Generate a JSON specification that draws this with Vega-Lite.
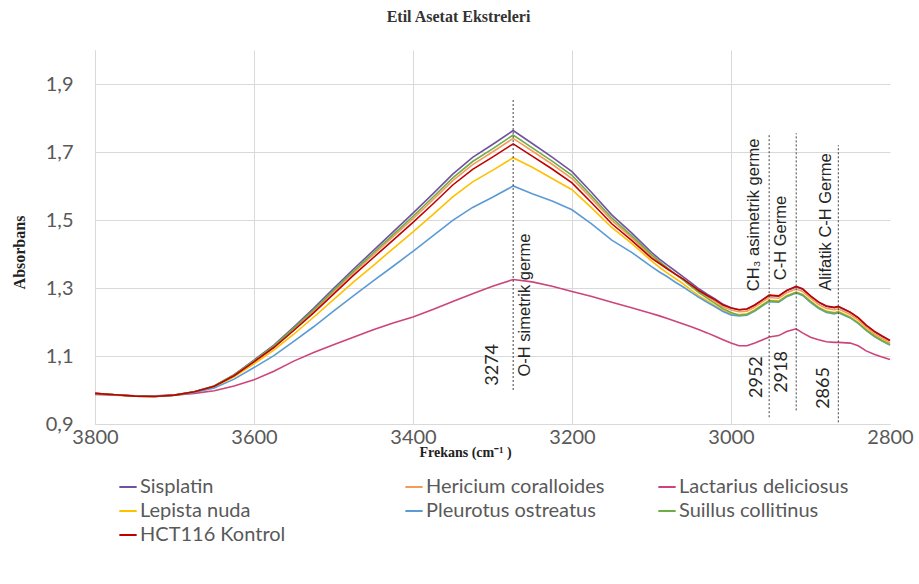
{
"$schema": "https://vega.github.io/schema/vega-lite/v6.json",
"width": 795,
"height": 374,
"autosize": "none",
"padding": {"left": 95, "top": 50, "right": 29, "bottom": 160},
"background": "white",
"title": {"text": "Etil Asetat Ekstreleri", "font": "Liberation Serif", "fontSize": 16, "fontWeight": "bold", "color": "#333333", "anchor": "middle", "dx": -34, "offset": 25},
"datasets": {
"spectra": [
{"s":"Sisplatin","x":3800,"y":0.990},{"s":"Sisplatin","x":3775,"y":0.986},{"s":"Sisplatin","x":3750,"y":0.982},{"s":"Sisplatin","x":3725,"y":0.981},{"s":"Sisplatin","x":3700,"y":0.985},{"s":"Sisplatin","x":3675,"y":0.995},{"s":"Sisplatin","x":3650,"y":1.012},{"s":"Sisplatin","x":3625,"y":1.045},{"s":"Sisplatin","x":3600,"y":1.088},{"s":"Sisplatin","x":3575,"y":1.132},{"s":"Sisplatin","x":3550,"y":1.185},{"s":"Sisplatin","x":3525,"y":1.240},{"s":"Sisplatin","x":3500,"y":1.298},{"s":"Sisplatin","x":3475,"y":1.355},{"s":"Sisplatin","x":3450,"y":1.410},{"s":"Sisplatin","x":3425,"y":1.465},{"s":"Sisplatin","x":3400,"y":1.520},{"s":"Sisplatin","x":3375,"y":1.577},{"s":"Sisplatin","x":3350,"y":1.635},{"s":"Sisplatin","x":3325,"y":1.684},{"s":"Sisplatin","x":3300,"y":1.722},{"s":"Sisplatin","x":3274,"y":1.763},{"s":"Sisplatin","x":3250,"y":1.725},{"s":"Sisplatin","x":3225,"y":1.685},{"s":"Sisplatin","x":3200,"y":1.642},{"s":"Sisplatin","x":3175,"y":1.580},{"s":"Sisplatin","x":3150,"y":1.515},{"s":"Sisplatin","x":3125,"y":1.462},{"s":"Sisplatin","x":3100,"y":1.405},{"s":"Sisplatin","x":3090,"y":1.385},{"s":"Sisplatin","x":3080,"y":1.367},{"s":"Sisplatin","x":3070,"y":1.350},{"s":"Sisplatin","x":3060,"y":1.333},{"s":"Sisplatin","x":3050,"y":1.315},{"s":"Sisplatin","x":3040,"y":1.297},{"s":"Sisplatin","x":3030,"y":1.282},{"s":"Sisplatin","x":3020,"y":1.268},{"s":"Sisplatin","x":3010,"y":1.252},{"s":"Sisplatin","x":3000,"y":1.242},{"s":"Sisplatin","x":2990,"y":1.236},{"s":"Sisplatin","x":2980,"y":1.238},{"s":"Sisplatin","x":2970,"y":1.250},{"s":"Sisplatin","x":2960,"y":1.266},{"s":"Sisplatin","x":2952,"y":1.278},{"s":"Sisplatin","x":2940,"y":1.276},{"s":"Sisplatin","x":2930,"y":1.292},{"s":"Sisplatin","x":2918,"y":1.303},{"s":"Sisplatin","x":2910,"y":1.296},{"s":"Sisplatin","x":2900,"y":1.276},{"s":"Sisplatin","x":2890,"y":1.258},{"s":"Sisplatin","x":2880,"y":1.246},{"s":"Sisplatin","x":2870,"y":1.242},{"s":"Sisplatin","x":2865,"y":1.245},{"s":"Sisplatin","x":2850,"y":1.228},{"s":"Sisplatin","x":2840,"y":1.212},{"s":"Sisplatin","x":2830,"y":1.190},{"s":"Sisplatin","x":2820,"y":1.172},{"s":"Sisplatin","x":2810,"y":1.158},{"s":"Sisplatin","x":2800,"y":1.145},
{"s":"Hericium coralloides","x":3800,"y":0.990},{"s":"Hericium coralloides","x":3775,"y":0.986},{"s":"Hericium coralloides","x":3750,"y":0.982},{"s":"Hericium coralloides","x":3725,"y":0.981},{"s":"Hericium coralloides","x":3700,"y":0.985},{"s":"Hericium coralloides","x":3675,"y":0.995},{"s":"Hericium coralloides","x":3650,"y":1.011},{"s":"Hericium coralloides","x":3625,"y":1.043},{"s":"Hericium coralloides","x":3600,"y":1.085},{"s":"Hericium coralloides","x":3575,"y":1.128},{"s":"Hericium coralloides","x":3550,"y":1.179},{"s":"Hericium coralloides","x":3525,"y":1.232},{"s":"Hericium coralloides","x":3500,"y":1.289},{"s":"Hericium coralloides","x":3475,"y":1.344},{"s":"Hericium coralloides","x":3450,"y":1.397},{"s":"Hericium coralloides","x":3425,"y":1.451},{"s":"Hericium coralloides","x":3400,"y":1.504},{"s":"Hericium coralloides","x":3375,"y":1.559},{"s":"Hericium coralloides","x":3350,"y":1.616},{"s":"Hericium coralloides","x":3325,"y":1.663},{"s":"Hericium coralloides","x":3300,"y":1.700},{"s":"Hericium coralloides","x":3274,"y":1.740},{"s":"Hericium coralloides","x":3250,"y":1.703},{"s":"Hericium coralloides","x":3225,"y":1.664},{"s":"Hericium coralloides","x":3200,"y":1.622},{"s":"Hericium coralloides","x":3175,"y":1.562},{"s":"Hericium coralloides","x":3150,"y":1.499},{"s":"Hericium coralloides","x":3125,"y":1.448},{"s":"Hericium coralloides","x":3100,"y":1.393},{"s":"Hericium coralloides","x":3090,"y":1.375},{"s":"Hericium coralloides","x":3080,"y":1.358},{"s":"Hericium coralloides","x":3070,"y":1.341},{"s":"Hericium coralloides","x":3060,"y":1.325},{"s":"Hericium coralloides","x":3050,"y":1.307},{"s":"Hericium coralloides","x":3040,"y":1.290},{"s":"Hericium coralloides","x":3030,"y":1.275},{"s":"Hericium coralloides","x":3020,"y":1.261},{"s":"Hericium coralloides","x":3010,"y":1.245},{"s":"Hericium coralloides","x":3000,"y":1.235},{"s":"Hericium coralloides","x":2990,"y":1.230},{"s":"Hericium coralloides","x":2980,"y":1.232},{"s":"Hericium coralloides","x":2970,"y":1.244},{"s":"Hericium coralloides","x":2960,"y":1.260},{"s":"Hericium coralloides","x":2952,"y":1.272},{"s":"Hericium coralloides","x":2940,"y":1.270},{"s":"Hericium coralloides","x":2930,"y":1.286},{"s":"Hericium coralloides","x":2918,"y":1.297},{"s":"Hericium coralloides","x":2910,"y":1.290},{"s":"Hericium coralloides","x":2900,"y":1.270},{"s":"Hericium coralloides","x":2890,"y":1.252},{"s":"Hericium coralloides","x":2880,"y":1.240},{"s":"Hericium coralloides","x":2870,"y":1.236},{"s":"Hericium coralloides","x":2865,"y":1.239},{"s":"Hericium coralloides","x":2850,"y":1.222},{"s":"Hericium coralloides","x":2840,"y":1.206},{"s":"Hericium coralloides","x":2830,"y":1.184},{"s":"Hericium coralloides","x":2820,"y":1.166},{"s":"Hericium coralloides","x":2810,"y":1.152},{"s":"Hericium coralloides","x":2800,"y":1.139},
{"s":"Lactarius deliciosus","x":3800,"y":0.987},{"s":"Lactarius deliciosus","x":3775,"y":0.985},{"s":"Lactarius deliciosus","x":3750,"y":0.983},{"s":"Lactarius deliciosus","x":3725,"y":0.983},{"s":"Lactarius deliciosus","x":3700,"y":0.985},{"s":"Lactarius deliciosus","x":3675,"y":0.990},{"s":"Lactarius deliciosus","x":3650,"y":0.998},{"s":"Lactarius deliciosus","x":3625,"y":1.012},{"s":"Lactarius deliciosus","x":3600,"y":1.030},{"s":"Lactarius deliciosus","x":3575,"y":1.055},{"s":"Lactarius deliciosus","x":3550,"y":1.085},{"s":"Lactarius deliciosus","x":3525,"y":1.110},{"s":"Lactarius deliciosus","x":3500,"y":1.133},{"s":"Lactarius deliciosus","x":3475,"y":1.155},{"s":"Lactarius deliciosus","x":3450,"y":1.177},{"s":"Lactarius deliciosus","x":3425,"y":1.197},{"s":"Lactarius deliciosus","x":3400,"y":1.215},{"s":"Lactarius deliciosus","x":3375,"y":1.237},{"s":"Lactarius deliciosus","x":3350,"y":1.260},{"s":"Lactarius deliciosus","x":3325,"y":1.283},{"s":"Lactarius deliciosus","x":3300,"y":1.305},{"s":"Lactarius deliciosus","x":3274,"y":1.325},{"s":"Lactarius deliciosus","x":3250,"y":1.318},{"s":"Lactarius deliciosus","x":3225,"y":1.305},{"s":"Lactarius deliciosus","x":3200,"y":1.290},{"s":"Lactarius deliciosus","x":3175,"y":1.275},{"s":"Lactarius deliciosus","x":3150,"y":1.258},{"s":"Lactarius deliciosus","x":3125,"y":1.242},{"s":"Lactarius deliciosus","x":3100,"y":1.225},{"s":"Lactarius deliciosus","x":3090,"y":1.218},{"s":"Lactarius deliciosus","x":3080,"y":1.210},{"s":"Lactarius deliciosus","x":3070,"y":1.202},{"s":"Lactarius deliciosus","x":3060,"y":1.194},{"s":"Lactarius deliciosus","x":3050,"y":1.186},{"s":"Lactarius deliciosus","x":3040,"y":1.177},{"s":"Lactarius deliciosus","x":3030,"y":1.168},{"s":"Lactarius deliciosus","x":3020,"y":1.158},{"s":"Lactarius deliciosus","x":3010,"y":1.148},{"s":"Lactarius deliciosus","x":3000,"y":1.138},{"s":"Lactarius deliciosus","x":2990,"y":1.130},{"s":"Lactarius deliciosus","x":2980,"y":1.130},{"s":"Lactarius deliciosus","x":2970,"y":1.138},{"s":"Lactarius deliciosus","x":2960,"y":1.148},{"s":"Lactarius deliciosus","x":2952,"y":1.156},{"s":"Lactarius deliciosus","x":2940,"y":1.160},{"s":"Lactarius deliciosus","x":2930,"y":1.172},{"s":"Lactarius deliciosus","x":2918,"y":1.180},{"s":"Lactarius deliciosus","x":2910,"y":1.168},{"s":"Lactarius deliciosus","x":2900,"y":1.155},{"s":"Lactarius deliciosus","x":2890,"y":1.148},{"s":"Lactarius deliciosus","x":2880,"y":1.142},{"s":"Lactarius deliciosus","x":2870,"y":1.140},{"s":"Lactarius deliciosus","x":2865,"y":1.140},{"s":"Lactarius deliciosus","x":2850,"y":1.138},{"s":"Lactarius deliciosus","x":2840,"y":1.130},{"s":"Lactarius deliciosus","x":2830,"y":1.115},{"s":"Lactarius deliciosus","x":2820,"y":1.105},{"s":"Lactarius deliciosus","x":2810,"y":1.097},{"s":"Lactarius deliciosus","x":2800,"y":1.090},
{"s":"Lepista nuda","x":3800,"y":0.989},{"s":"Lepista nuda","x":3775,"y":0.986},{"s":"Lepista nuda","x":3750,"y":0.982},{"s":"Lepista nuda","x":3725,"y":0.981},{"s":"Lepista nuda","x":3700,"y":0.985},{"s":"Lepista nuda","x":3675,"y":0.994},{"s":"Lepista nuda","x":3650,"y":1.009},{"s":"Lepista nuda","x":3625,"y":1.039},{"s":"Lepista nuda","x":3600,"y":1.077},{"s":"Lepista nuda","x":3575,"y":1.117},{"s":"Lepista nuda","x":3550,"y":1.164},{"s":"Lepista nuda","x":3525,"y":1.214},{"s":"Lepista nuda","x":3500,"y":1.266},{"s":"Lepista nuda","x":3475,"y":1.317},{"s":"Lepista nuda","x":3450,"y":1.366},{"s":"Lepista nuda","x":3425,"y":1.416},{"s":"Lepista nuda","x":3400,"y":1.465},{"s":"Lepista nuda","x":3375,"y":1.516},{"s":"Lepista nuda","x":3350,"y":1.568},{"s":"Lepista nuda","x":3325,"y":1.612},{"s":"Lepista nuda","x":3300,"y":1.646},{"s":"Lepista nuda","x":3274,"y":1.683},{"s":"Lepista nuda","x":3250,"y":1.655},{"s":"Lepista nuda","x":3225,"y":1.622},{"s":"Lepista nuda","x":3200,"y":1.589},{"s":"Lepista nuda","x":3175,"y":1.535},{"s":"Lepista nuda","x":3150,"y":1.478},{"s":"Lepista nuda","x":3125,"y":1.431},{"s":"Lepista nuda","x":3100,"y":1.380},{"s":"Lepista nuda","x":3090,"y":1.361},{"s":"Lepista nuda","x":3080,"y":1.344},{"s":"Lepista nuda","x":3070,"y":1.328},{"s":"Lepista nuda","x":3060,"y":1.312},{"s":"Lepista nuda","x":3050,"y":1.294},{"s":"Lepista nuda","x":3040,"y":1.277},{"s":"Lepista nuda","x":3030,"y":1.263},{"s":"Lepista nuda","x":3020,"y":1.248},{"s":"Lepista nuda","x":3010,"y":1.233},{"s":"Lepista nuda","x":3000,"y":1.224},{"s":"Lepista nuda","x":2990,"y":1.222},{"s":"Lepista nuda","x":2980,"y":1.224},{"s":"Lepista nuda","x":2970,"y":1.236},{"s":"Lepista nuda","x":2960,"y":1.252},{"s":"Lepista nuda","x":2952,"y":1.264},{"s":"Lepista nuda","x":2940,"y":1.262},{"s":"Lepista nuda","x":2930,"y":1.277},{"s":"Lepista nuda","x":2918,"y":1.288},{"s":"Lepista nuda","x":2910,"y":1.281},{"s":"Lepista nuda","x":2900,"y":1.262},{"s":"Lepista nuda","x":2890,"y":1.244},{"s":"Lepista nuda","x":2880,"y":1.232},{"s":"Lepista nuda","x":2870,"y":1.228},{"s":"Lepista nuda","x":2865,"y":1.231},{"s":"Lepista nuda","x":2850,"y":1.215},{"s":"Lepista nuda","x":2840,"y":1.199},{"s":"Lepista nuda","x":2830,"y":1.178},{"s":"Lepista nuda","x":2820,"y":1.161},{"s":"Lepista nuda","x":2810,"y":1.147},{"s":"Lepista nuda","x":2800,"y":1.134},
{"s":"Pleurotus ostreatus","x":3800,"y":0.989},{"s":"Pleurotus ostreatus","x":3775,"y":0.986},{"s":"Pleurotus ostreatus","x":3750,"y":0.983},{"s":"Pleurotus ostreatus","x":3725,"y":0.982},{"s":"Pleurotus ostreatus","x":3700,"y":0.985},{"s":"Pleurotus ostreatus","x":3675,"y":0.993},{"s":"Pleurotus ostreatus","x":3650,"y":1.006},{"s":"Pleurotus ostreatus","x":3625,"y":1.032},{"s":"Pleurotus ostreatus","x":3600,"y":1.066},{"s":"Pleurotus ostreatus","x":3575,"y":1.101},{"s":"Pleurotus ostreatus","x":3550,"y":1.143},{"s":"Pleurotus ostreatus","x":3525,"y":1.186},{"s":"Pleurotus ostreatus","x":3500,"y":1.232},{"s":"Pleurotus ostreatus","x":3475,"y":1.277},{"s":"Pleurotus ostreatus","x":3450,"y":1.321},{"s":"Pleurotus ostreatus","x":3425,"y":1.364},{"s":"Pleurotus ostreatus","x":3400,"y":1.408},{"s":"Pleurotus ostreatus","x":3375,"y":1.453},{"s":"Pleurotus ostreatus","x":3350,"y":1.499},{"s":"Pleurotus ostreatus","x":3325,"y":1.537},{"s":"Pleurotus ostreatus","x":3300,"y":1.567},{"s":"Pleurotus ostreatus","x":3274,"y":1.600},{"s":"Pleurotus ostreatus","x":3250,"y":1.577},{"s":"Pleurotus ostreatus","x":3225,"y":1.556},{"s":"Pleurotus ostreatus","x":3200,"y":1.530},{"s":"Pleurotus ostreatus","x":3175,"y":1.488},{"s":"Pleurotus ostreatus","x":3150,"y":1.441},{"s":"Pleurotus ostreatus","x":3125,"y":1.405},{"s":"Pleurotus ostreatus","x":3100,"y":1.363},{"s":"Pleurotus ostreatus","x":3090,"y":1.347},{"s":"Pleurotus ostreatus","x":3080,"y":1.333},{"s":"Pleurotus ostreatus","x":3070,"y":1.317},{"s":"Pleurotus ostreatus","x":3060,"y":1.303},{"s":"Pleurotus ostreatus","x":3050,"y":1.287},{"s":"Pleurotus ostreatus","x":3040,"y":1.272},{"s":"Pleurotus ostreatus","x":3030,"y":1.258},{"s":"Pleurotus ostreatus","x":3020,"y":1.245},{"s":"Pleurotus ostreatus","x":3010,"y":1.231},{"s":"Pleurotus ostreatus","x":3000,"y":1.221},{"s":"Pleurotus ostreatus","x":2990,"y":1.218},{"s":"Pleurotus ostreatus","x":2980,"y":1.220},{"s":"Pleurotus ostreatus","x":2970,"y":1.232},{"s":"Pleurotus ostreatus","x":2960,"y":1.248},{"s":"Pleurotus ostreatus","x":2952,"y":1.260},{"s":"Pleurotus ostreatus","x":2940,"y":1.258},{"s":"Pleurotus ostreatus","x":2930,"y":1.274},{"s":"Pleurotus ostreatus","x":2918,"y":1.285},{"s":"Pleurotus ostreatus","x":2910,"y":1.278},{"s":"Pleurotus ostreatus","x":2900,"y":1.258},{"s":"Pleurotus ostreatus","x":2890,"y":1.240},{"s":"Pleurotus ostreatus","x":2880,"y":1.228},{"s":"Pleurotus ostreatus","x":2870,"y":1.224},{"s":"Pleurotus ostreatus","x":2865,"y":1.227},{"s":"Pleurotus ostreatus","x":2850,"y":1.212},{"s":"Pleurotus ostreatus","x":2840,"y":1.196},{"s":"Pleurotus ostreatus","x":2830,"y":1.175},{"s":"Pleurotus ostreatus","x":2820,"y":1.158},{"s":"Pleurotus ostreatus","x":2810,"y":1.144},{"s":"Pleurotus ostreatus","x":2800,"y":1.132},
{"s":"Suillus collitinus","x":3800,"y":0.990},{"s":"Suillus collitinus","x":3775,"y":0.986},{"s":"Suillus collitinus","x":3750,"y":0.982},{"s":"Suillus collitinus","x":3725,"y":0.981},{"s":"Suillus collitinus","x":3700,"y":0.985},{"s":"Suillus collitinus","x":3675,"y":0.995},{"s":"Suillus collitinus","x":3650,"y":1.012},{"s":"Suillus collitinus","x":3625,"y":1.044},{"s":"Suillus collitinus","x":3600,"y":1.086},{"s":"Suillus collitinus","x":3575,"y":1.130},{"s":"Suillus collitinus","x":3550,"y":1.182},{"s":"Suillus collitinus","x":3525,"y":1.236},{"s":"Suillus collitinus","x":3500,"y":1.293},{"s":"Suillus collitinus","x":3475,"y":1.349},{"s":"Suillus collitinus","x":3450,"y":1.403},{"s":"Suillus collitinus","x":3425,"y":1.457},{"s":"Suillus collitinus","x":3400,"y":1.511},{"s":"Suillus collitinus","x":3375,"y":1.567},{"s":"Suillus collitinus","x":3350,"y":1.624},{"s":"Suillus collitinus","x":3325,"y":1.672},{"s":"Suillus collitinus","x":3300,"y":1.709},{"s":"Suillus collitinus","x":3274,"y":1.750},{"s":"Suillus collitinus","x":3250,"y":1.712},{"s":"Suillus collitinus","x":3225,"y":1.673},{"s":"Suillus collitinus","x":3200,"y":1.631},{"s":"Suillus collitinus","x":3175,"y":1.570},{"s":"Suillus collitinus","x":3150,"y":1.506},{"s":"Suillus collitinus","x":3125,"y":1.454},{"s":"Suillus collitinus","x":3100,"y":1.398},{"s":"Suillus collitinus","x":3090,"y":1.378},{"s":"Suillus collitinus","x":3080,"y":1.359},{"s":"Suillus collitinus","x":3070,"y":1.341},{"s":"Suillus collitinus","x":3060,"y":1.323},{"s":"Suillus collitinus","x":3050,"y":1.304},{"s":"Suillus collitinus","x":3040,"y":1.286},{"s":"Suillus collitinus","x":3030,"y":1.270},{"s":"Suillus collitinus","x":3020,"y":1.255},{"s":"Suillus collitinus","x":3010,"y":1.239},{"s":"Suillus collitinus","x":3000,"y":1.228},{"s":"Suillus collitinus","x":2990,"y":1.220},{"s":"Suillus collitinus","x":2980,"y":1.222},{"s":"Suillus collitinus","x":2970,"y":1.234},{"s":"Suillus collitinus","x":2960,"y":1.250},{"s":"Suillus collitinus","x":2952,"y":1.262},{"s":"Suillus collitinus","x":2940,"y":1.260},{"s":"Suillus collitinus","x":2930,"y":1.276},{"s":"Suillus collitinus","x":2918,"y":1.287},{"s":"Suillus collitinus","x":2910,"y":1.280},{"s":"Suillus collitinus","x":2900,"y":1.260},{"s":"Suillus collitinus","x":2890,"y":1.242},{"s":"Suillus collitinus","x":2880,"y":1.230},{"s":"Suillus collitinus","x":2870,"y":1.226},{"s":"Suillus collitinus","x":2865,"y":1.229},{"s":"Suillus collitinus","x":2850,"y":1.213},{"s":"Suillus collitinus","x":2840,"y":1.197},{"s":"Suillus collitinus","x":2830,"y":1.176},{"s":"Suillus collitinus","x":2820,"y":1.159},{"s":"Suillus collitinus","x":2810,"y":1.145},{"s":"Suillus collitinus","x":2800,"y":1.133},
{"s":"HCT116 Kontrol","x":3800,"y":0.990},{"s":"HCT116 Kontrol","x":3775,"y":0.986},{"s":"HCT116 Kontrol","x":3750,"y":0.982},{"s":"HCT116 Kontrol","x":3725,"y":0.981},{"s":"HCT116 Kontrol","x":3700,"y":0.985},{"s":"HCT116 Kontrol","x":3675,"y":0.995},{"s":"HCT116 Kontrol","x":3650,"y":1.011},{"s":"HCT116 Kontrol","x":3625,"y":1.042},{"s":"HCT116 Kontrol","x":3600,"y":1.083},{"s":"HCT116 Kontrol","x":3575,"y":1.125},{"s":"HCT116 Kontrol","x":3550,"y":1.175},{"s":"HCT116 Kontrol","x":3525,"y":1.227},{"s":"HCT116 Kontrol","x":3500,"y":1.282},{"s":"HCT116 Kontrol","x":3475,"y":1.337},{"s":"HCT116 Kontrol","x":3450,"y":1.389},{"s":"HCT116 Kontrol","x":3425,"y":1.441},{"s":"HCT116 Kontrol","x":3400,"y":1.493},{"s":"HCT116 Kontrol","x":3375,"y":1.547},{"s":"HCT116 Kontrol","x":3350,"y":1.603},{"s":"HCT116 Kontrol","x":3325,"y":1.649},{"s":"HCT116 Kontrol","x":3300,"y":1.685},{"s":"HCT116 Kontrol","x":3274,"y":1.724},{"s":"HCT116 Kontrol","x":3250,"y":1.688},{"s":"HCT116 Kontrol","x":3225,"y":1.650},{"s":"HCT116 Kontrol","x":3200,"y":1.609},{"s":"HCT116 Kontrol","x":3175,"y":1.550},{"s":"HCT116 Kontrol","x":3150,"y":1.489},{"s":"HCT116 Kontrol","x":3125,"y":1.440},{"s":"HCT116 Kontrol","x":3100,"y":1.388},{"s":"HCT116 Kontrol","x":3090,"y":1.372},{"s":"HCT116 Kontrol","x":3080,"y":1.356},{"s":"HCT116 Kontrol","x":3070,"y":1.341},{"s":"HCT116 Kontrol","x":3060,"y":1.326},{"s":"HCT116 Kontrol","x":3050,"y":1.309},{"s":"HCT116 Kontrol","x":3040,"y":1.292},{"s":"HCT116 Kontrol","x":3030,"y":1.278},{"s":"HCT116 Kontrol","x":3020,"y":1.265},{"s":"HCT116 Kontrol","x":3010,"y":1.250},{"s":"HCT116 Kontrol","x":3000,"y":1.241},{"s":"HCT116 Kontrol","x":2990,"y":1.236},{"s":"HCT116 Kontrol","x":2980,"y":1.238},{"s":"HCT116 Kontrol","x":2970,"y":1.250},{"s":"HCT116 Kontrol","x":2960,"y":1.266},{"s":"HCT116 Kontrol","x":2952,"y":1.279},{"s":"HCT116 Kontrol","x":2940,"y":1.277},{"s":"HCT116 Kontrol","x":2930,"y":1.293},{"s":"HCT116 Kontrol","x":2918,"y":1.305},{"s":"HCT116 Kontrol","x":2910,"y":1.298},{"s":"HCT116 Kontrol","x":2900,"y":1.277},{"s":"HCT116 Kontrol","x":2890,"y":1.259},{"s":"HCT116 Kontrol","x":2880,"y":1.247},{"s":"HCT116 Kontrol","x":2870,"y":1.243},{"s":"HCT116 Kontrol","x":2865,"y":1.246},{"s":"HCT116 Kontrol","x":2850,"y":1.229},{"s":"HCT116 Kontrol","x":2840,"y":1.213},{"s":"HCT116 Kontrol","x":2830,"y":1.191},{"s":"HCT116 Kontrol","x":2820,"y":1.173},{"s":"HCT116 Kontrol","x":2810,"y":1.159},{"s":"HCT116 Kontrol","x":2800,"y":1.146}
]
},
"layer": [
{
"data": {"name": "spectra"},
"mark": {"type": "line", "strokeWidth": 1.6},
"encoding": {
"x": {"field": "x", "type": "quantitative", "title": "Frekans (cm⁻¹ )",
"scale": {"domain": [2800, 3800], "reverse": true, "nice": false, "zero": false},
"axis": {"values": [3800, 3600, 3400, 3200, 3000, 2800], "format": "d", "labelFont": "Lato", "labelFontSize": 20, "labelColor": "#595959", "labelPadding": 3, "ticks": false, "domainColor": "#d9d9d9", "labelFlush": false, "labelOverlap": false,
"gridColor": {"condition": {"test": "datum.value == 2800", "value": "transparent"}, "value": "#d9d9d9"},
"titleFont": "Liberation Serif", "titleFontWeight": "bold", "titleFontSize": 14, "titleColor": "#222222", "titleX": 370, "titleY": 28, "titleBaseline": "middle",
"encode": {"labels": {"update": {"align": {"signal": "datum.value == 2800 ? 'right' : 'center'"}}}}}},
"y": {"field": "y", "type": "quantitative", "title": "Absorbans",
"scale": {"domain": [0.9, 2.0], "nice": false, "zero": false},
"axis": {"values": [0.9, 1.1, 1.3, 1.5, 1.7, 1.9], "labelExpr": "replace(format(datum.value, '.1f'), '.', ',')", "labelFont": "Lato", "labelFontSize": 20, "labelColor": "#595959", "labelPadding": 22, "ticks": false, "domainColor": "#d9d9d9", "gridColor": "#d9d9d9",
"titleFont": "Liberation Serif", "titleFontWeight": "bold", "titleFontSize": 16, "titleColor": "#222222", "titleX": -76, "titleY": 202, "titleAngle": 270, "titleAlign": "center", "titleBaseline": "middle"}},
"color": {"field": "s", "type": "nominal",
"scale": {"domain": ["Sisplatin", "Hericium coralloides", "Lactarius deliciosus", "Lepista nuda", "Pleurotus ostreatus", "Suillus collitinus", "HCT116 Kontrol"], "range": ["#7152a0", "#f39c5a", "#cc4479", "#ffc000", "#5b9bd5", "#70ad47", "#c00000"]},
"legend": null}
}
},
{
"data": {"values": [{"x": 3274, "lo": 1.0, "hi": 1.855}, {"x": 2952, "lo": 0.92, "hi": 1.755}, {"x": 2918, "lo": 0.94, "hi": 1.755}, {"x": 2865, "lo": 0.905, "hi": 1.72}]},
"mark": {"type": "rule", "strokeDash": [2, 2], "color": "#404040", "strokeWidth": 1},
"encoding": {"x": {"field": "x", "type": "quantitative", "title": "Frekans (cm⁻¹ )"}, "y": {"field": "lo", "type": "quantitative", "title": "Absorbans"}, "y2": {"field": "hi"}}
},
{
"data": {"values": [{"x": 3299, "y": 1.074, "t": "3274"}, {"x": 2967, "y": 1.038, "t": "2952"}, {"x": 2936, "y": 1.053, "t": "2918"}, {"x": 2883, "y": 1.006, "t": "2865"}]},
"mark": {"type": "text", "angle": 270, "align": "center", "baseline": "middle", "font": "Lato", "fontSize": 18, "color": "#262626"},
"encoding": {"x": {"field": "x", "type": "quantitative", "title": "Frekans (cm⁻¹ )"}, "y": {"field": "y", "type": "quantitative", "title": "Absorbans"}, "text": {"field": "t"}}
},
{
"data": {"values": [{"x": 3259, "y": 1.25, "t": "O-H simetrik germe"}, {"x": 2971, "y": 1.515, "t": "CH₃ asimetrik germe"}, {"x": 2937, "y": 1.447, "t": "C-H Germe"}, {"x": 2880, "y": 1.494, "t": "Alifatik C-H Germe"}]},
"mark": {"type": "text", "angle": 270, "align": "center", "baseline": "middle", "font": "Liberation Sans", "fontSize": 16.5, "color": "#262626"},
"encoding": {"x": {"field": "x", "type": "quantitative", "title": "Frekans (cm⁻¹ )"}, "y": {"field": "y", "type": "quantitative", "title": "Absorbans"}, "text": {"field": "t"}}
},
{
"data": {"name": "spectra"},
"transform": [{"filter": "false"}],
"mark": {"type": "line", "strokeWidth": 2},
"encoding": {"x": {"field": "x", "type": "quantitative", "title": "Frekans (cm⁻¹ )"}, "y": {"field": "y", "type": "quantitative", "title": "Absorbans"},
"color": {"field": "s", "type": "nominal", "scale": {"domain": ["Sisplatin", "Lepista nuda", "HCT116 Kontrol"], "range": ["#7152a0", "#ffc000", "#c00000"]},
"legend": {"title": null, "orient": "none", "legendX": 23, "legendY": 427}}}
},
{
"data": {"name": "spectra"},
"transform": [{"filter": "false"}],
"mark": {"type": "line", "strokeWidth": 2},
"encoding": {"x": {"field": "x", "type": "quantitative", "title": "Frekans (cm⁻¹ )"}, "y": {"field": "y", "type": "quantitative", "title": "Absorbans"},
"color": {"field": "s", "type": "nominal", "scale": {"domain": ["Hericium coralloides", "Pleurotus ostreatus"], "range": ["#f39c5a", "#5b9bd5"]},
"legend": {"title": null, "orient": "none", "legendX": 309, "legendY": 427}}}
},
{
"data": {"name": "spectra"},
"transform": [{"filter": "false"}],
"mark": {"type": "line", "strokeWidth": 2},
"encoding": {"x": {"field": "x", "type": "quantitative", "title": "Frekans (cm⁻¹ )"}, "y": {"field": "y", "type": "quantitative", "title": "Absorbans"},
"color": {"field": "s", "type": "nominal", "scale": {"domain": ["Lactarius deliciosus", "Suillus collitinus"], "range": ["#cc4479", "#70ad47"]},
"legend": {"title": null, "orient": "none", "legendX": 562, "legendY": 427}}}
}
],
"resolve": {"scale": {"color": "independent"}},
"config": {
"view": {"stroke": null},
"legend": {"labelFont": "Lato", "labelFontSize": 20, "labelColor": "#595959", "labelLimit": 400, "symbolType": "stroke", "symbolStrokeWidth": 2, "symbolSize": 300, "rowPadding": 4, "labelOffset": 2, "direction": "vertical"}
}
}
